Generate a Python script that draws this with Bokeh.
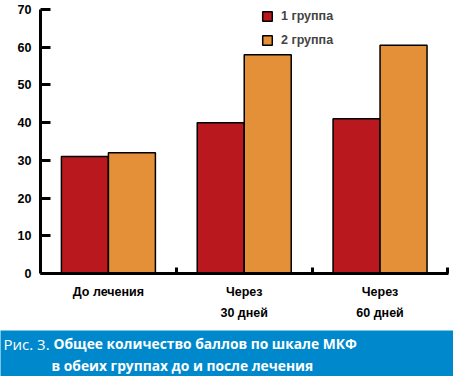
from bokeh.plotting import figure
from bokeh.models import Range1d, FixedTicker, ColumnDataSource
from bokeh.transform import dodge
from bokeh.layouts import column
from bokeh.core.properties import value
from bokeh.embed import file_html
from bokeh.resources import INLINE

categories = ["До лечения", "Через\n30 дней", "Через\n60 дней"]
group1 = [31, 40, 41]
group2 = [32, 58, 60.5]
series_names = ["1 группа", "2 группа"]
y_ticks = [0, 10, 20, 30, 40, 50, 60, 70]
caption_prefix = "Рис. 3."
caption_line1 = "Общее количество баллов по шкале МКФ"
caption_line2 = "в обеих группах до и после лечения"

RED = "#B9191E"
ORANGE = "#E39038"
BLUE = "#0088CC"
FONT = "Liberation Sans"

centers = [i + 0.5 for i in range(len(categories))]
src = ColumnDataSource(dict(x=centers, g1=group1, g2=group2))

p = figure(width=453, height=330, output_backend="svg", toolbar_location=None,
           x_range=Range1d(0, 3.004), y_range=Range1d(0, 70),
           min_border_left=40, min_border_right=5, min_border_top=9, min_border_bottom=57)
p.outline_line_color = None
p.grid.visible = False
p.background_fill_color = "white"
p.border_fill_color = "white"

bw = 0.346
p.vbar(x=dodge("x", -bw / 2, range=p.x_range), top="g1", width=bw, source=src,
       fill_color=RED, line_color="black", line_width=1.5, legend_label=series_names[0])
p.vbar(x=dodge("x", bw / 2, range=p.x_range), top="g2", width=bw, source=src,
       fill_color=ORANGE, line_color="black", line_width=1.5, legend_label=series_names[1])

# y axis
ya = p.yaxis[0]
ya.ticker = FixedTicker(ticks=y_ticks)
ya.axis_line_width = 3
ya.major_tick_line_width = 3
ya.major_tick_in = 10
ya.major_tick_out = 0
ya.minor_tick_line_color = None
ya.major_label_text_font = FONT
ya.major_label_text_font_style = "bold"
ya.major_label_text_font_size = "12.5px"
ya.major_label_text_color = "black"
ya.major_label_standoff = 9

# x axis
xa = p.xaxis[0]
xa.ticker = FixedTicker(ticks=centers, minor_ticks=[1, 2, 3])
xa.major_label_overrides = {c: lab for c, lab in zip(centers, categories)}
xa.axis_line_width = 3
xa.major_tick_in = 0
xa.major_tick_out = 0
xa.minor_tick_in = 6
xa.minor_tick_out = 0
xa.minor_tick_line_width = 3
xa.minor_tick_line_color = "black"
xa.major_label_text_font = FONT
xa.major_label_text_font_style = "bold"
xa.major_label_text_font_size = "12.5px"
xa.major_label_text_color = "black"
xa.major_label_text_line_height = 1.5
xa.major_label_standoff = 11

lg = p.legend[0]
lg.location = (221, 226)
lg.border_line_color = None
lg.background_fill_alpha = 0
lg.padding = 0
lg.margin = 0
lg.glyph_width = 12
lg.glyph_height = 12
lg.label_height = 12
lg.spacing = 10
lg.label_standoff = 8
lg.label_text_font = FONT
lg.label_text_font_style = "bold"
lg.label_text_font_size = "12.5px"

# caption band
c = figure(width=453, height=46, output_backend="svg", toolbar_location=None,
           x_range=Range1d(0, 453), y_range=Range1d(0, 46),
           x_axis_type=None, y_axis_type=None,
           min_border=0, min_border_left=0, min_border_right=0, min_border_top=0, min_border_bottom=0)
c.grid.visible = False
c.outline_line_color = None
c.background_fill_color = BLUE
c.border_fill_color = BLUE
if "frame_align" in c.properties():
    c.frame_align = False
    p.frame_align = False
c.text(x=[3], y=[32.6], text=[caption_prefix], text_font=value("Open Sans"),
       text_font_size="15px", text_color="white", text_baseline="middle")
c.text(x=[53, 51], y=[32.6, 11.5], text=[caption_line1, caption_line2], text_font=value("Open Sans"),
       text_font_style="bold", text_font_size="13.8px", text_color="white", text_baseline="middle")

layout = column(p, c, spacing=0)
open("out.html", "w").write(file_html(layout, INLINE))
